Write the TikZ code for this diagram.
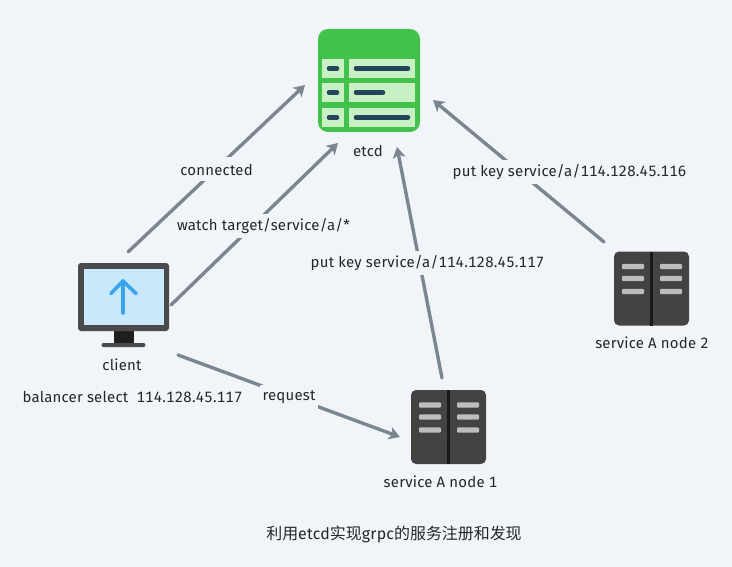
\documentclass[tikz,border=0pt]{standalone}
\usepackage{fontspec}
\setmainfont[Numbers={Lining,Monospaced},LetterSpace=1.5]{Fira Sans}
\newfontfamily\cjk{Noto Sans CJK SC}
\usetikzlibrary{arrows.meta}
\definecolor{bg}{HTML}{F1F5F9}
\definecolor{conncol}{HTML}{7C8690}
\definecolor{egreen}{HTML}{43C24B}
\definecolor{epale}{HTML}{C9EFC4}
\definecolor{edark}{HTML}{24465A}
\definecolor{mon}{HTML}{4A4A4C}
\definecolor{scr}{HTML}{C9E8FB}
\definecolor{blu}{HTML}{3AA5EA}
\definecolor{srv}{HTML}{434343}
\definecolor{barcol}{HTML}{BDBDBD}
\definecolor{ink}{HTML}{20272D}
\tikzset{
  x=1bp,y=-1bp,
  txt/.style={font=\fontsize{15}{17}\selectfont,text=ink,inner sep=0pt},
  lab/.style={txt,fill=bg,inner xsep=3bp,inner ysep=0pt,minimum height=24bp},
  connline/.style={draw=conncol,line width=3.4bp,line cap=round,-{Stealth[length=11bp,width=13bp,inset=3bp]}},
  dashline/.style={edark,line width=4.5bp,line cap=round},
  srvbar/.style={fill=barcol,rounded corners=1bp},
  server/.pic={
    \fill[srv,rounded corners=5bp] (0,0) rectangle (75,74);
    \fill[black!90] (35.7,0) rectangle (39.3,74);
    \foreach \yy in {15,27,40}{
      \fill[srvbar] (8,\yy-2.7) rectangle (30,\yy+2.7);
      \fill[srvbar] (46,\yy-2.7) rectangle (68,\yy+2.7);
    }
  }
}
\begin{document}
\begin{tikzpicture}
\useasboundingbox (0,0) rectangle (732,567);
\fill[bg] (0,0) rectangle (732,567);
% etcd icon
\fill[egreen,rounded corners=10bp] (318,29) rectangle (420,132);
\fill[epale] (322,59) rectangle (344,78);
\fill[epale] (349,59) rectangle (415,78);
\fill[epale] (322,83) rectangle (344,102.5);
\fill[epale] (349,83) rectangle (415,102.5);
\fill[epale] (322,108) rectangle (344,127);
\fill[epale] (349,108) rectangle (415,127);
\foreach \yy/\xe in {68.5/410,92.5/385,117.5/410}{
  \draw[dashline] (329,\yy) -- (337,\yy);
  \draw[dashline] (356,\yy) -- (\xe-2,\yy);
}
% monitor icon
\fill[black!88] (114,331) rectangle (134,345);
\fill[mon,rounded corners=2bp] (101.5,343) rectangle (145.5,347);
\fill[mon,rounded corners=3bp] (78,263) rectangle (169,331);
\fill[scr] (83.5,269) rectangle (163.5,325);
\draw[blu,line width=3.6bp,line cap=round,line join=round] (123,313) -- (123,281);
\draw[blu,line width=3.6bp,line cap=round,line join=round] (111,293.5) -- (123,281) -- (136,293.5);
% servers
\pic at (411,390) {server};
\pic at (614,251.5) {server};
% connector ends
\coordinate (etcdA) at (305,85);
\coordinate (etcdB) at (338,143);
\coordinate (etcdC) at (397,147);
\coordinate (etcdD) at (433,100);
\coordinate (clientA) at (128,252);
\coordinate (clientB) at (171,305);
\coordinate (clientC) at (178,355);
\coordinate (nodeoneA) at (400,437);
\coordinate (nodeoneB) at (442,378);
\coordinate (nodetwoA) at (604,242);
\draw[connline] (clientA) -- (etcdA);
\draw[connline] (clientB) -- (etcdB);
\draw[connline] (clientC) -- (nodeoneA);
\draw[connline] (nodeoneB) -- (etcdC);
\draw[connline] (nodetwoA) -- (etcdD);
% labels
\node[lab] (lconn) at (216.5,169.5) {connected};
\node[lab] (lwatch) at (263.5,226) {watch target/service/a/*};
\node[lab] (lreq) at (289,397) {request};
\node[lab] (lone) at (427.5,263) {put key service/a/114.128.45.117};
\node[lab] (ltwo) at (569.5,172.5) {put key service/a/114.128.45.116};
\node[txt] (etcd) at (368,150.5) {etcd};
\node[txt] (client) at (122,364.5) {client};
\node[txt] (nodeone) at (440.5,481.5) {service A node 1};
\node[txt] (nodetwo) at (652,342.5) {service A node 2};
\node[txt] (bal) at (132.5,396.5) {balancer select\ \ 114.128.45.117};
\node[txt,font=\fontsize{16}{18}\selectfont] (title) at (394,534) {{\cjk 利用}etcd{\cjk 实现}grpc{\cjk 的服务注册和发现}};
\end{tikzpicture}
\end{document}
